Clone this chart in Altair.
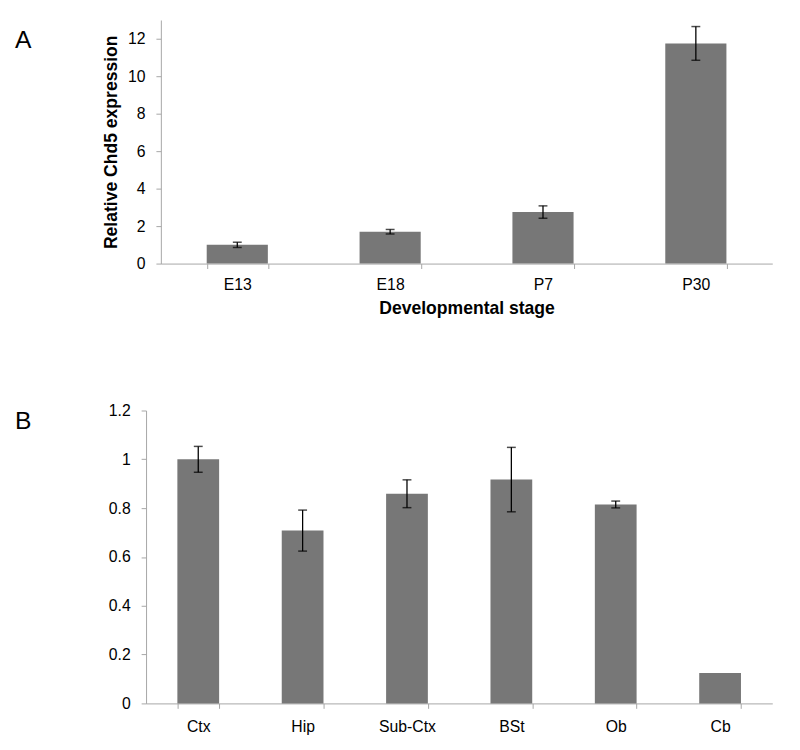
import altair as alt
import pandas as pd

# Panel A: developmental stages
stages = ["E13", "E18", "P7", "P30"]
stage_mean = [1.0, 1.70, 2.75, 11.75]
stage_err = [0.14, 0.12, 0.33, 0.90]
stage_ticks = [0, 2, 4, 6, 8, 10, 12]

# Panel B: brain regions
regions = ["Ctx", "Hip", "Sub-Ctx", "BSt", "Ob", "Cb"]
region_mean = [1.0, 0.708, 0.859, 0.917, 0.815, 0.125]
region_err = [0.053, 0.084, 0.057, 0.132, 0.014, 0.0]
region_ticks = [0, 0.2, 0.4, 0.6, 0.8, 1, 1.2]

BAR = "#777777"
AXIS = "#a6a6a6"
FONT = "Liberation Sans"

dfA = pd.DataFrame({"cat": stages, "mean": stage_mean, "err": stage_err})
dfA["lo"] = dfA["mean"] - dfA["err"]
dfA["hi"] = dfA["mean"] + dfA["err"]

dfB = pd.DataFrame({"cat": regions, "mean": region_mean, "err": region_err})
dfB["lo"] = dfB["mean"] - dfB["err"]
dfB["hi"] = dfB["mean"] + dfB["err"]


def panel(df, order, xtitle, ytitle, ydomain, yticks, yfmt, width, height,
          xrange=None, yoffset=0, letter="A", letter_y=28, xlabpad=8):
    sc_kwargs = dict(paddingInner=0.6, paddingOuter=0.3)
    if xrange is not None:
        sc_kwargs["range"] = xrange
    xaxis_kwargs = dict(labelAngle=0, tickBand="extent", labelPadding=xlabpad,
                        titlePadding=8)
    xaxis = alt.Axis(title=xtitle, **xaxis_kwargs) if xtitle else alt.Axis(title=None, **xaxis_kwargs)
    yaxis_kwargs = dict(values=yticks, grid=False, offset=yoffset,
                        labelPadding=11, titlePadding=7)
    if yfmt:
        yaxis_kwargs["format"] = yfmt
    yaxis = alt.Axis(title=ytitle, **yaxis_kwargs) if ytitle else alt.Axis(title=None, **yaxis_kwargs)

    x = alt.X("cat:N", sort=order, scale=alt.Scale(**sc_kwargs), axis=xaxis)
    yscale = alt.Scale(domain=ydomain, nice=False, zero=True)

    base = alt.Chart(df)
    bars = base.mark_bar(color=BAR).encode(
        x=x, y=alt.Y("mean:Q", scale=yscale, axis=yaxis)
    )
    errd = base.transform_filter("datum.err > 0")
    rule = errd.mark_rule(color="black", strokeWidth=1.3).encode(
        x=alt.X("cat:N", sort=order), y=alt.Y("lo:Q"), y2="hi:Q"
    )
    cap_lo = errd.mark_tick(color="black", size=9, thickness=1.5).encode(
        x=alt.X("cat:N", sort=order), y=alt.Y("lo:Q")
    )
    cap_hi = errd.mark_tick(color="black", size=9, thickness=1.5).encode(
        x=alt.X("cat:N", sort=order), y=alt.Y("hi:Q")
    )
    lab = alt.Chart(pd.DataFrame({"t": [letter]})).mark_text(
        font=FONT, fontSize=25, align="left", baseline="alphabetic", color="black"
    ).encode(text="t:N", x=alt.value(-148), y=alt.value(letter_y))
    return alt.layer(bars, rule, cap_lo, cap_hi, lab).properties(width=width, height=height)


chartA = panel(dfA, stages, "Developmental stage", "Relative Chd5 expression",
               [0, 13], stage_ticks, None, 620, 247, letter="A", letter_y=28,
               xlabpad=8)
chartB = panel(dfB, regions, None, None, [0, 1.2], region_ticks, "~g", 620, 297,
               xrange=[-15, 620], yoffset=15, letter="B", letter_y=19,
               xlabpad=10)

chart = alt.vconcat(chartA, chartB, spacing=86).properties(
    padding={"left": 7, "top": 7, "right": 5, "bottom": 5}
).configure_view(stroke=None).configure_axis(
    domainColor=AXIS, tickColor=AXIS, tickSize=5, domainWidth=1, tickWidth=1,
    labelFont=FONT, labelFontSize=16, labelColor="black",
    titleFont=FONT, titleFontSize=17.8, titleFontWeight="bold", titleColor="black",
)

chart.save("out.html", embed_options={"renderer": "svg", "actions": False})
